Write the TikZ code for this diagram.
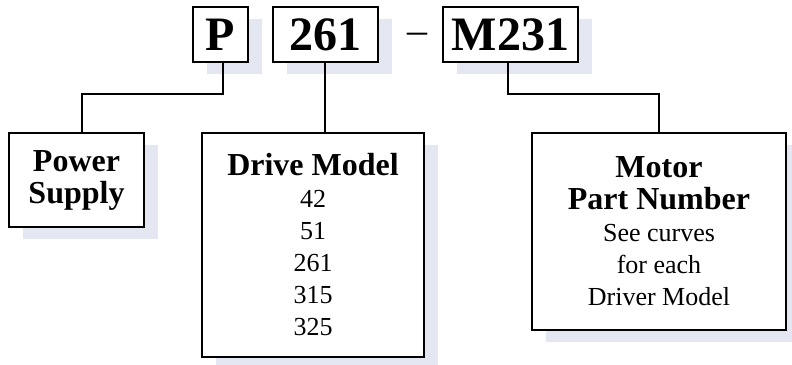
\documentclass[tikz,border=0pt]{standalone}
\usepackage{fontspec}
\setmainfont{Liberation Serif}
\usetikzlibrary{shadows}

\definecolor{shade}{RGB}{228,231,242}
% bold heading lines inside the boxes
\newcommand\hd[1]{{\fontsize{32}{36}\selectfont\bfseries #1}}

\begin{document}
\begin{tikzpicture}[x=1pt, y=-1pt,
    every node/.style = {align=center, inner sep=0pt},
    tag/.style = {shape=rectangle, draw, line width=2pt, fill=white,
      drop shadow={shadow xshift=14pt, shadow yshift=-12pt,
        fill=shade, opacity=1}},
    code/.style = {tag, minimum height=55pt,
      font=\fontsize{48}{50}\selectfont\bfseries},
    info/.style = {tag, font=\fontsize{26}{32}\selectfont},
    link/.style = {line width=1.7pt}]
    \useasboundingbox (0,0) rectangle (792,364);

    % part number code
    \node[code, minimum width=55pt]  (P)    at (220.5,34.5) {P};
    \node[code, minimum width=105pt] (drv)  at (325,34.5) {261};
    \node[font=\fontsize{40}{40}\selectfont, anchor=base] (dash) at (417,43) {--};
    \node[code, minimum width=135pt] (M)    at (510.5,34.5) {M231};

    % what each field means
    \node[info, minimum width=135pt, minimum height=94pt] (pwr) at (76.5,180)
        {\hd{Power}\\\hd{Supply}};
    \node[info, minimum width=222pt, minimum height=224pt] (model) at (313,245)
        {\hd{Drive Model}\\42\\51\\261\\315\\325};
    \node[info, minimum width=254pt, minimum height=197pt] (motor) at (659,231.5)
        {\hd{Motor}\\\hd{Part Number}\\See curves\\for each\\Driver Model};

    \draw[link] ([xshift=2.5pt]P.south) -- ++(0,31) -| ([xshift=5.5pt]pwr.north);
    \draw[link] (drv.south) -- (drv.south |- model.north);
    \draw[link] ([xshift=-2.5pt]M.south) -- ++(0,31) -| (motor.north);
\end{tikzpicture}
\end{document}
